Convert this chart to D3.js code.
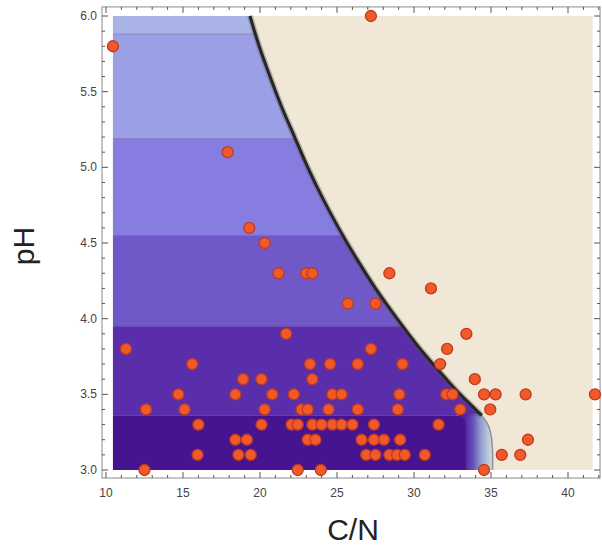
<!DOCTYPE html>
<html>
<head>
<meta charset="UTF-8" />
<title>pH vs C/N</title>
<script src="https://d3js.org/d3.v7.min.js"></script>
<style>
  body { margin: 0; background: #fff; }
  svg text { font-family: "Liberation Sans", Arial, sans-serif; }
</style>
</head>
<body>
<svg id="chart" width="602" height="546"></svg>
<script>
// samples, grouped by pH row (C/N values on each row)
const phRows = [3.0, 3.1, 3.2, 3.3, 3.4, 3.5, 3.6, 3.7, 3.8, 3.9, 4.1, 4.2, 4.3, 4.5, 4.6, 5.1, 5.8, 6.0]
const cnByRow = [
  [12.5, 22.45, 23.95, 34.55],
  [15.95, 18.6, 19.4, 26.9, 27.5, 28.4, 28.9, 29.4, 30.7, 35.7, 36.9],
  [18.4, 19.15, 23.1, 23.6, 26.6, 27.4, 28.05, 29.1, 37.4],
  [16.0, 20.1, 22.05, 22.45, 23.4, 24.0, 24.7, 25.3, 26.0, 27.4, 31.6],
  [12.6, 15.1, 20.3, 22.7, 23.1, 24.45, 26.35, 28.95, 33.0, 34.95],
  [14.7, 18.4, 20.8, 22.2, 24.7, 25.3, 29.05, 32.1, 32.5, 34.55, 35.3, 37.25, 41.75],
  [18.9, 20.1, 23.4, 33.95],
  [15.6, 23.25, 24.55, 26.35, 29.25, 31.7],
  [11.3, 27.2, 32.15],
  [21.7, 33.4],
  [25.7, 27.5],
  [31.1],
  [21.2, 23.0, 23.4, 28.4],
  [20.3],
  [19.3],
  [17.9],
  [10.45],
  [27.2]
]

// black boundary of the purple region
const edgeCN = [19.35, 19.95, 20.65, 21.4, 22.25, 23.1, 24.05, 25.1, 26.25, 27.5, 28.9, 30.4, 32.1, 33.0, 34.0, 34.4]
const edgePH = [6.0, 5.8, 5.6, 5.4, 5.2, 5.0, 4.8, 4.6, 4.4, 4.2, 4.0, 3.8, 3.6, 3.5, 3.4, 3.36]
// grey tail down to the bottom
const tailCN = [34.4, 34.8, 35.02, 35.1, 35.1]
const tailPH = [3.36, 3.3, 3.22, 3.12, 3.0]

// contour bands, bottom to top
const bandEdges = [3.0, 3.36, 3.95, 4.55, 5.19, 5.88, 6.0]
const bandColors = ["#461491", "#5a2eaa", "#7058c8", "#877de1", "#9ba0e6", "#aab3e6"]

const xTicks = [10, 15, 20, 25, 30, 35, 40]
const yTicks = [3.0, 3.5, 4.0, 4.5, 5.0, 5.5, 6.0]

const svg = d3.select("#chart")

const x = d3.scaleLinear().domain([10, 40]).range([106, 568])
const y = d3.scaleLinear().domain([3, 6]).range([470, 16])

// gradient at the lower right corner
const grad = svg.append("defs").append("linearGradient")
  .attr("id", "fade").attr("gradientUnits", "userSpaceOnUse")
  .attr("x1", x(33.3)).attr("x2", x(35.1)).attr("y1", 0).attr("y2", 0)
grad.selectAll("stop")
  .data([[0, "#4f24a0"], [0.3, "#6652b8"], [0.55, "#8d96cf"], [0.8, "#b6c2d8"], [1, "#d3dadf"]])
  .join("stop")
  .attr("offset", d => d[0]).attr("stop-color", d => d[1])

const clip = svg.select("defs").append("clipPath").attr("id", "region")
const regionPts = [[10.45, 3.0], [10.45, 6.0]]
  .concat(edgeCN.map((c, i) => [c, edgePH[i]]))
  .concat(tailCN.map((c, i) => [c, tailPH[i]]))
const line = d3.line().x(d => x(d[0])).y(d => y(d[1]))
clip.append("path").attr("d", line(regionPts) + "Z")

// beige background of the plot
svg.append("rect")
  .attr("x", x(10.45)).attr("y", y(6.0))
  .attr("width", x(41.6) - x(10.45)).attr("height", y(3.0) - y(6.0))
  .attr("fill", "#f1e7d7")

const g = svg.append("g").attr("clip-path", "url(#region)")

g.selectAll("rect.band")
  .data(bandColors.slice(1))
  .join("rect")
  .attr("class", "band")
  .attr("x", x(9)).attr("width", x(37) - x(9))
  .attr("y", (d, i) => y(bandEdges[i + 2]))
  .attr("height", (d, i) => y(bandEdges[i + 1]) - y(bandEdges[i + 2]))
  .attr("fill", d => d)

g.append("rect")
  .attr("x", x(32.6)).attr("width", x(35.4) - x(32.6))
  .attr("y", y(3.37)).attr("height", y(2.9) - y(3.37))
  .attr("rx", 9)
  .attr("fill", "url(#fade)")

g.append("rect")
  .attr("x", x(9)).attr("width", x(33.35) - x(9))
  .attr("y", y(bandEdges[1])).attr("height", y(2.9) - y(bandEdges[1]))
  .attr("rx", 10)
  .attr("fill", bandColors[0])

// thin contour lines between bands
g.selectAll("line.sep")
  .data(bandEdges.slice(1, 6))
  .join("line")
  .attr("class", "sep")
  .attr("x1", x(10.45)).attr("x2", x(36))
  .attr("y1", d => y(d)).attr("y2", d => y(d))
  .attr("stroke", "#4a2c9a").attr("stroke-opacity", 0.35).attr("stroke-width", 1)

// boundary lines
const edgePts = edgeCN.map((c, i) => [c, edgePH[i]])
const curve = d3.line().x(d => x(d[0])).y(d => y(d[1])).curve(d3.curveCatmullRom)
svg.append("path").attr("d", curve(edgePts))
  .attr("fill", "none").attr("stroke", "#555").attr("stroke-opacity", 0.35).attr("stroke-width", 6)
svg.append("path").attr("d", curve(edgePts))
  .attr("fill", "none").attr("stroke", "#262626").attr("stroke-width", 3)
svg.append("path").attr("d", curve(tailCN.map((c, i) => [c, tailPH[i]])))
  .attr("fill", "none").attr("stroke", "#8c939a").attr("stroke-width", 1.5)

// frame
const fx0 = 9.74, fx1 = 42.08, fy0 = 2.947, fy1 = 6.06
svg.append("rect")
  .attr("x", x(fx0)).attr("y", y(fy1))
  .attr("width", x(fx1) - x(fx0)).attr("height", y(fy0) - y(fy1))
  .attr("fill", "none").attr("stroke", "#8a8a8a").attr("stroke-width", 1)

const tickG = svg.append("g").attr("stroke", "#555").attr("stroke-width", 1)
const xMinor = d3.range(10, 43, 1)
const yMinor = d3.range(30, 61, 1).map(v => v / 10)
tickG.selectAll("line.xb")
  .data(xMinor).join("line")
  .attr("x1", d => x(d)).attr("x2", d => x(d))
  .attr("y1", y(fy0)).attr("y2", d => y(fy0) - (d % 5 === 0 ? 6 : 3))
tickG.selectAll("line.xt")
  .data(xMinor).join("line").attr("class", "xt")
  .attr("x1", d => x(d)).attr("x2", d => x(d))
  .attr("y1", y(fy1)).attr("y2", d => y(fy1) + (d % 5 === 0 ? 6 : 3))
tickG.selectAll("line.yl")
  .data(yMinor).join("line").attr("class", "yl")
  .attr("y1", d => y(d)).attr("y2", d => y(d))
  .attr("x1", x(fx0)).attr("x2", d => x(fx0) + (Math.round(d * 10) % 5 === 0 ? 6 : 3))
tickG.selectAll("line.yr")
  .data(yMinor).join("line").attr("class", "yr")
  .attr("y1", d => y(d)).attr("y2", d => y(d))
  .attr("x1", x(fx1)).attr("x2", d => x(fx1) - (Math.round(d * 10) % 5 === 0 ? 6 : 3))

svg.selectAll("text.xl")
  .data(xTicks).join("text").attr("class", "xl")
  .attr("x", d => x(d)).attr("y", 497)
  .attr("text-anchor", "middle").attr("font-size", 12).attr("fill", "#444")
  .text(d => d)
svg.selectAll("text.yl")
  .data(yTicks).join("text").attr("class", "yl")
  .attr("x", 97).attr("y", d => y(d) + 4)
  .attr("text-anchor", "end").attr("font-size", 12).attr("fill", "#444")
  .text(d => d.toFixed(1))

// points
const pts = phRows.flatMap((p, i) => cnByRow[i].map(c => [c, p]))
svg.selectAll("circle")
  .data(pts).join("circle")
  .attr("cx", d => x(d[0])).attr("cy", d => y(d[1]))
  .attr("r", 5.5)
  .attr("fill", "#f05a2a").attr("stroke", "#c23a1c").attr("stroke-width", 1.3)

// axis titles
svg.append("text")
  .attr("x", 353).attr("y", 540)
  .attr("text-anchor", "middle").attr("font-size", 30).attr("fill", "#222")
  .text("C/N")
svg.append("text")
  .attr("transform", "translate(34,246) rotate(-90)")
  .attr("text-anchor", "middle").attr("font-size", 30).attr("fill", "#222")
  .text("pH")
</script>
</body>
</html>
